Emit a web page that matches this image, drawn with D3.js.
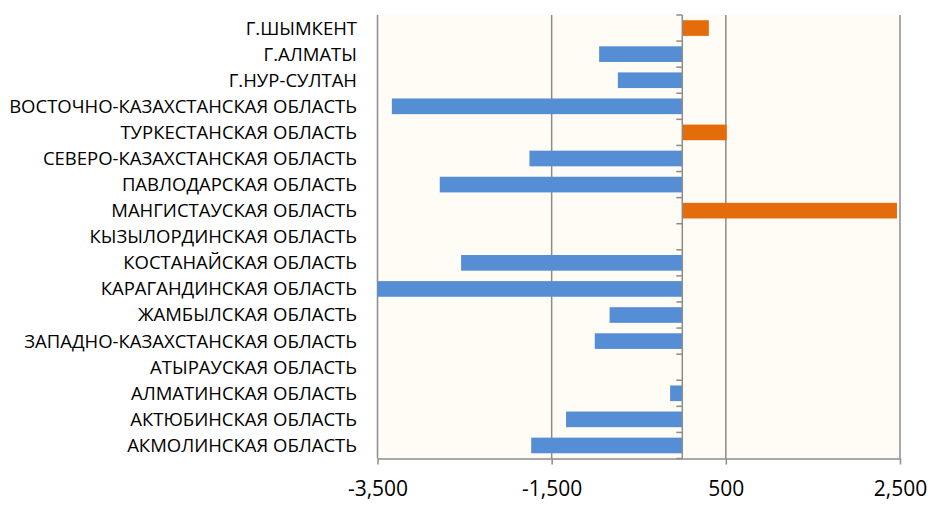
<!DOCTYPE html>
<html>
<head>
<meta charset="utf-8">
<script src="https://cdn.jsdelivr.net/npm/d3@7"></script>
<style>
  body { margin: 0; background: #fff; }
  text { font-family: "Open Sans", "Noto Sans", sans-serif; fill: #000; }
</style>
</head>
<body>
<svg id="chart" width="933" height="506"></svg>
<script>
// regions, bottom to top as in the picture
const regions = [
  'АКМОЛИНСКАЯ ОБЛАСТЬ',
  'АКТЮБИНСКАЯ ОБЛАСТЬ',
  'АЛМАТИНСКАЯ ОБЛАСТЬ',
  'АТЫРАУСКАЯ ОБЛАСТЬ',
  'ЗАПАДНО-КАЗАХСТАНСКАЯ ОБЛАСТЬ',
  'ЖАМБЫЛСКАЯ ОБЛАСТЬ',
  'КАРАГАНДИНСКАЯ ОБЛАСТЬ',
  'КОСТАНАЙСКАЯ ОБЛАСТЬ',
  'КЫЗЫЛОРДИНСКАЯ ОБЛАСТЬ',
  'МАНГИСТАУСКАЯ ОБЛАСТЬ',
  'ПАВЛОДАРСКАЯ ОБЛАСТЬ',
  'СЕВЕРО-КАЗАХСТАНСКАЯ ОБЛАСТЬ',
  'ТУРКЕСТАНСКАЯ ОБЛАСТЬ',
  'ВОСТОЧНО-КАЗАХСТАНСКАЯ ОБЛАСТЬ',
  'Г.НУР-СУЛТАН',
  'Г.АЛМАТЫ',
  'Г.ШЫМКЕНТ'
]
const values = [-1735, -1335, -140, 0, -1005, -835, -3500, -2540, 0, 2465, -2785, -1755, 510, -3335, -740, -955, 305]
const xTicks = [-3500, -1500, 500, 2500]

const svg = d3.select('#chart')
const mLeft = 377.5, mRight = 900, mTop = 15, mBottom = 458.5

const x = d3.scaleLinear().domain([-3500, 2500]).range([mLeft, mRight])
const y = d3.scaleBand()
  .domain(regions.slice().reverse())
  .range([mTop, mBottom])
  .paddingInner(0.4)
  .paddingOuter(0.2)

// plot background
svg.append('rect')
  .attr('x', mLeft).attr('y', mTop)
  .attr('width', mRight - mLeft).attr('height', mBottom - mTop)
  .attr('fill', '#fffbf5')

// vertical gridlines
svg.append('g')
  .selectAll('line')
  .data(xTicks)
  .join('line')
  .attr('x1', (d) => x(d)).attr('x2', (d) => x(d))
  .attr('y1', mTop).attr('y2', mBottom)
  .attr('stroke', '#8c8c8c')
  .attr('stroke-width', 1.5)

// bars
const data = regions.map((r, i) => ({region: r, value: values[i]}))
svg.append('g')
  .selectAll('rect')
  .data(data.filter((d) => d.value !== 0))
  .join('rect')
  .attr('x', (d) => x(Math.min(0, d.value)))
  .attr('width', (d) => Math.abs(x(d.value) - x(0)))
  .attr('y', (d) => y(d.region))
  .attr('height', y.bandwidth())
  .attr('fill', (d) => (d.value < 0 ? '#558ed5' : '#e46c0a'))

// zero axis with category ticks
const step = y.step()
const yEdges = d3.range(regions.length + 1).map((i) => mTop + i * step)
const zeroAxis = svg.append('g')
zeroAxis.append('line')
  .attr('x1', x(0)).attr('x2', x(0))
  .attr('y1', mTop).attr('y2', mBottom)
  .attr('stroke', '#8c8c8c').attr('stroke-width', 1.5)
zeroAxis.selectAll('line.tick')
  .data(yEdges)
  .join('line')
  .attr('class', 'tick')
  .attr('x1', x(0) - 6).attr('x2', x(0))
  .attr('y1', (d) => d).attr('y2', (d) => d)
  .attr('stroke', '#8c8c8c').attr('stroke-width', 1.5)

// bottom axis
const fmt = d3.format(',')
const xAxis = d3.axisBottom(x)
  .tickValues(xTicks)
  .tickSize(6)
  .tickSizeOuter(0)
  .tickFormat((d) => fmt(d).replace('\u2212', '-'))
const gx = svg.append('g')
  .attr('transform', `translate(0,${mBottom})`)
  .call(xAxis)
gx.select('.domain').attr('stroke', '#8c8c8c').attr('stroke-width', 1.5)
gx.selectAll('.tick line').attr('stroke', '#8c8c8c').attr('stroke-width', 1.5)
gx.selectAll('.tick text')
  .attr('y', 31)
  .attr('dy', '0.32em')
  .style('font-family', '"Open Sans", sans-serif')
  .style('font-size', '21px')
  .attr('fill', '#000')

// category labels
svg.append('g')
  .selectAll('text')
  .data(regions)
  .join('text')
  .attr('x', 357)
  .attr('y', (d) => y(d) + y.bandwidth() / 2)
  .attr('dy', '0.35em')
  .attr('text-anchor', 'end')
  .style('font-size', '18.5px')
  .text((d) => d)
</script>
</body>
</html>
